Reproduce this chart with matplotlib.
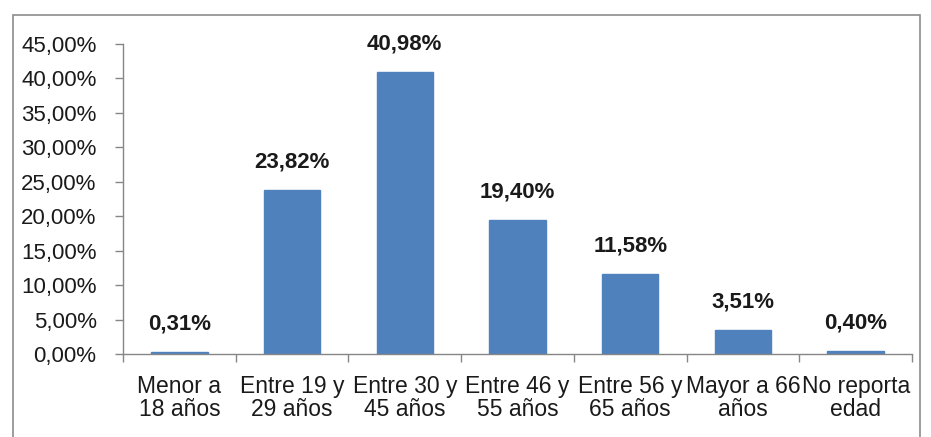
import matplotlib
matplotlib.use("Agg")
import matplotlib.pyplot as plt
from matplotlib.patches import Rectangle
from matplotlib.ticker import FuncFormatter, FixedLocator

categories = [
    "Menor a\n18 años",
    "Entre 19 y\n29 años",
    "Entre 30 y\n45 años",
    "Entre 46 y\n55 años",
    "Entre 56 y\n65 años",
    "Mayor a 66\naños",
    "No reporta\nedad",
]
values = [0.31, 23.82, 40.98, 19.40, 11.58, 3.51, 0.40]
y_ticks = [0, 5, 10, 15, 20, 25, 30, 35, 40, 45]

plt.rcParams["font.family"] = ["Liberation Sans", "DejaVu Sans"]

W, H = 931, 437
fig = plt.figure(figsize=(W / 100, H / 100), dpi=100)
ax = fig.add_axes([123 / W, 1 - 354 / H, (912 - 123) / W, (354 - 44) / H])

# outer chart frame
fig.patches.append(Rectangle((13 / W, -0.01), (920 - 13) / W, 1 - 15 / H + 0.01,
                             transform=fig.transFigure, fill=False,
                             edgecolor="#8c8c8c", linewidth=1.2))

x = list(range(len(categories)))
ax.bar(x, values, width=0.5, color="#4F81BD", edgecolor="#4F81BD")

for xi, v in zip(x, values):
    ax.annotate(f"{v:.2f}%".replace(".", ","), (xi, v), xytext=(0, 28),
                textcoords="offset pixels", ha="center", va="center",
                fontsize=16, fontweight="bold", color="#1a1a1a")

ax.set_xlim(-0.5, len(categories) - 0.5)
ax.set_ylim(0, 45)
ax.set_yticks(y_ticks)
ax.yaxis.set_major_formatter(FuncFormatter(lambda v, p: f"{v:.2f}%".replace(".", ",")))
ax.tick_params(axis="y", labelsize=16, length=6, width=1, color="#868686",
               pad=13, labelcolor="#1a1a1a")

ax.set_xticks(x)
ax.set_xticklabels(categories, fontsize=16.5, color="#1a1a1a", linespacing=1.0)
ax.tick_params(axis="x", length=0, pad=15)
ax.xaxis.set_minor_locator(FixedLocator([i - 0.5 for i in range(len(categories) + 1)]))
ax.tick_params(axis="x", which="minor", length=6, width=1, color="#868686")

for side in ["top", "right"]:
    ax.spines[side].set_visible(False)
for side in ["left", "bottom"]:
    ax.spines[side].set_color("#868686")
    ax.spines[side].set_linewidth(1)

fig.savefig("out.png", dpi=100)
